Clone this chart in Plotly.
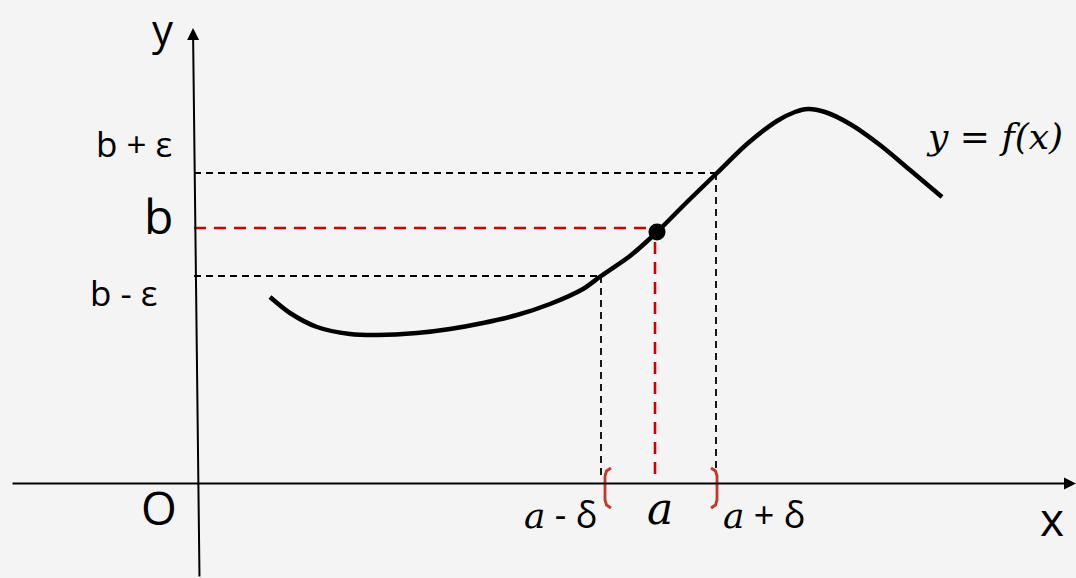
import plotly.graph_objects as go

W, H = 1076, 578

# curve y = f(x) (picture coordinates, y downward)
curve_x = [270, 290, 317, 350, 377, 417, 450, 483, 517, 550, 583, 601, 630, 657, 687, 717, 747, 777, 795, 808, 825, 850, 880, 910, 942]
curve_y = [297, 313, 327, 334, 335, 333, 329, 323, 315, 304, 289, 276, 256, 232, 202, 173, 144, 121, 112, 109, 112, 124, 145, 170, 197]

# key values
a_minus, a_val, a_plus = 601, 655, 716
b_plus, b_val, b_minus = 173, 228, 276
x_axis_y = 483.5
y_axis_top = (193, 28)
y_axis_bottom = (199.5, 578)
x_axis_left, x_axis_right = 11, 1076
point = (657, 232)

SANS = "Open Sans, Noto Sans, sans-serif"
SERIF = "DejaVu Serif, serif"
BG = "#f4f4f4"

fig = go.Figure()

def line(xs, ys, color="black", width=1.8, dash=None):
    fig.add_trace(go.Scatter(x=xs, y=ys, mode="lines", hoverinfo="skip",
                             line=dict(color=color, width=width, dash=dash), showlegend=False))

# dashed guides
line([194, a_plus], [b_plus, b_plus], dash="7px,5px")
line([a_plus, a_plus], [b_plus, 470], dash="7px,5px")
line([194, a_minus], [b_minus, b_minus], dash="7px,5px")
line([a_minus, a_minus], [b_minus, 478], dash="7px,5px")
line([194, point[0] - 6], [b_val, b_val], color="#cc0000", width=2.6, dash="12px,8px")
line([a_val, a_val], [point[1] + 10, 482], color="#cc0000", width=2.6, dash="12px,8px")

# axes (arrows)
fig.add_annotation(x=x_axis_right, y=x_axis_y, ax=x_axis_left, ay=x_axis_y, xref="x", yref="y",
                   axref="x", ayref="y", showarrow=True, arrowhead=2, arrowsize=1.2,
                   arrowwidth=2, arrowcolor="black", text="")
fig.add_annotation(x=y_axis_top[0], y=y_axis_top[1], ax=y_axis_bottom[0], ay=y_axis_bottom[1],
                   xref="x", yref="y", axref="x", ayref="y", showarrow=True, arrowhead=2,
                   arrowsize=1.2, arrowwidth=2, arrowcolor="black", text="")

# brackets
bracket_l_x = [611, 606.5, 605, 605, 606.5, 611]
bracket_r_x = [711, 715.5, 717, 717, 715.5, 711]
bracket_y = [468, 471, 476, 500, 505, 508]
line(bracket_l_x, bracket_y, color="#c0392b", width=2.8)
line(bracket_r_x, bracket_y, color="#c0392b", width=2.8)

# curve
fig.add_trace(go.Scatter(x=curve_x, y=curve_y, mode="lines", hoverinfo="skip",
                         line=dict(color="black", width=4.5, shape="spline", smoothing=0.8),
                         showlegend=False))
fig.add_trace(go.Scatter(x=[point[0]], y=[point[1]], mode="markers", hoverinfo="skip",
                         marker=dict(color="black", size=17), showlegend=False))

def label(x, y, text, size, family=SANS):
    fig.add_annotation(x=x, y=y, text=text, showarrow=False, xref="x", yref="y",
                       xanchor="center", yanchor="middle",
                       font=dict(size=size, family=family, color="black"))

label(163, 28, "y", 42)
label(134, 143, "b + ε", 35)
label(158, 215, "b", 48)
label(124, 292, "b - ε", 35)
label(159, 507, "O", 46)
label(1052, 518, "x", 46)
ia = "<span style='font-family:DejaVu Serif'><i>a</i></span>"
label(560, 514, ia + " - δ", 36)
label(660, 508, "<i>a</i>", 44, SERIF)
label(764, 514, ia + " + δ", 36)
label(994, 136, "<i>y = f(x)</i>", 36, SERIF)

fig.update_layout(
    width=W, height=H, margin=dict(l=0, r=0, t=0, b=0),
    paper_bgcolor=BG, plot_bgcolor=BG,
    xaxis=dict(range=[0, W], visible=False, fixedrange=True),
    yaxis=dict(range=[H, 0], visible=False, fixedrange=True),
)

fig.write_html("out.html", config={"displayModeBar": False},
               post_script="document.body.style.margin='0';document.body.style.background='%s';" % BG)
